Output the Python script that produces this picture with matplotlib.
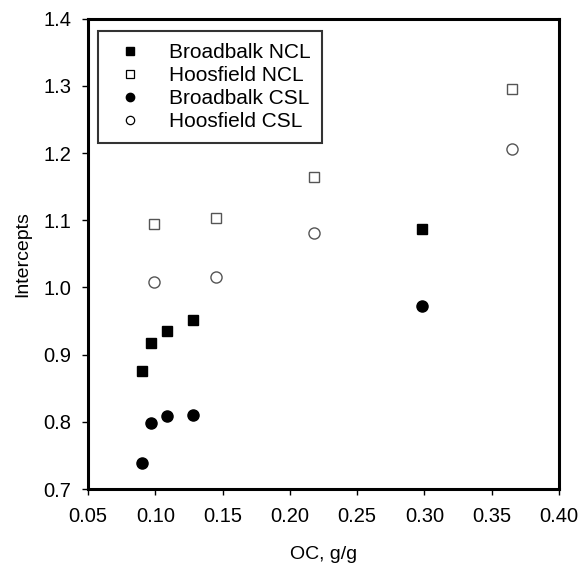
import matplotlib
matplotlib.use("Agg")
import matplotlib.pyplot as plt
from matplotlib.lines import Line2D

plt.rcParams['font.family'] = ['Liberation Sans', 'DejaVu Sans']

# Organic carbon content and fitted intercepts per site / method
bb_ncl_x = [0.090, 0.097, 0.109, 0.128, 0.298]
bb_ncl_y = [0.876, 0.918, 0.935, 0.952, 1.087]
hf_ncl_x = [0.099, 0.145, 0.218, 0.365]
hf_ncl_y = [1.095, 1.103, 1.164, 1.296]
bb_csl_x = [0.090, 0.097, 0.109, 0.128, 0.298]
bb_csl_y = [0.738, 0.799, 0.808, 0.810, 0.972]
hf_csl_x = [0.099, 0.145, 0.218, 0.365]
hf_csl_y = [1.008, 1.016, 1.081, 1.206]

x_ticks = [0.05, 0.10, 0.15, 0.20, 0.25, 0.30, 0.35, 0.40]
y_ticks = [0.7, 0.8, 0.9, 1.0, 1.1, 1.2, 1.3, 1.4]

fig = plt.figure(figsize=(5.8, 5.66), dpi=100)
ax = fig.add_axes([0.1517, 0.136, 0.812, 0.831])

ax.plot(bb_ncl_x, bb_ncl_y, 's', color='black', markersize=7.2, linestyle='none')
ax.plot(hf_ncl_x, hf_ncl_y, 's', markerfacecolor='white', markeredgecolor='#555555',
        markeredgewidth=1.0, markersize=6.5, linestyle='none')
ax.plot(bb_csl_x, bb_csl_y, 'o', color='black', markersize=8, linestyle='none')
ax.plot(hf_csl_x, hf_csl_y, 'o', markerfacecolor='white', markeredgecolor='#555555',
        markeredgewidth=1.0, markersize=8, linestyle='none')

ax.set_xlim(0.05, 0.40)
ax.set_ylim(0.7, 1.4)
ax.set_xticks(x_ticks)
ax.set_xticklabels([f'{t:.2f}' for t in x_ticks])
ax.set_yticks(y_ticks)
ax.set_yticklabels([f'{t:.1f}' for t in y_ticks])
ax.tick_params(direction='out', length=4, width=1, labelsize=14.5)
ax.tick_params(axis='y', pad=8)
ax.tick_params(axis='x', pad=9)

for s in ax.spines.values():
    s.set_linewidth(2.2)

ax.set_xlabel('OC, g/g', fontsize=14, labelpad=14)
ax.set_ylabel('Intercepts', fontsize=14, labelpad=9)

handles = [
    Line2D([], [], marker='s', color='black', linestyle='none', markersize=5.5),
    Line2D([], [], marker='s', markerfacecolor='white', markeredgecolor='black',
           markeredgewidth=0.9, linestyle='none', markersize=5.5),
    Line2D([], [], marker='o', color='black', linestyle='none', markersize=6),
    Line2D([], [], marker='o', markerfacecolor='white', markeredgecolor='black',
           markeredgewidth=0.9, linestyle='none', markersize=6),
]
labels = ['Broadbalk NCL', 'Hoosfield NCL', 'Broadbalk CSL', 'Hoosfield CSL']
leg = ax.legend(handles, labels, loc='upper left', bbox_to_anchor=(0.021, 0.973),
                fontsize=15, frameon=True, fancybox=False, borderpad=0.55,
                labelspacing=0.2, handletextpad=0.85, handlelength=2.0,
                borderaxespad=0)
leg.get_frame().set_edgecolor('black')
leg.get_frame().set_linewidth(1.5)

fig.savefig('out.png', dpi=100)
